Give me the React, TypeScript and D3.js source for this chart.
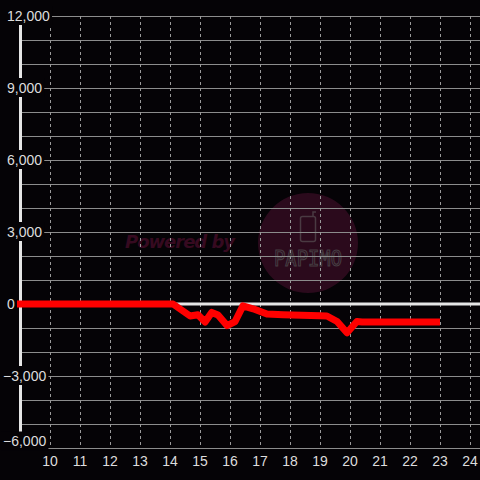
import React, { useEffect, useRef } from "react";
import * as d3 from "d3";

const hours = [8.8, 14.1, 14.67, 14.93, 15.17, 15.39, 15.6, 15.9, 16.17, 16.43, 16.77, 17.23, 17.77, 19.0, 19.23, 19.57, 19.9, 20.23, 20.4, 23.0];
const values = [0, 0, -500, -450, -750, -350, -460, -900, -730, -80, -200, -420, -450, -490, -500, -730, -1200, -730, -750, -750];
const yTicks = [12000, 9000, 6000, 3000, 0, -3000, -6000];
const xTicks = [10, 11, 12, 13, 14, 15, 16, 17, 18, 19, 20, 21, 22, 23, 24];

const W = 480;
const H = 480;
const BG = "#050306";

export default function App() {
  const ref = useRef<SVGSVGElement | null>(null);

  useEffect(() => {
    const svg = d3.select(ref.current);
    svg.selectAll("*").remove();
    const x = d3.scaleLinear().domain([9, 24]).range([20, 470]);
    const y = d3.scaleLinear().domain([-6000, 12000]).range([448, 16]);

    svg.append("rect").attr("width", W).attr("height", H).attr("fill", BG);

    // watermark
    const wm = svg.append("g");
    wm.append("text")
      .attr("x", 125)
      .attr("y", 248)
      .attr("font-family", "'DejaVu Sans', sans-serif")
      .attr("font-weight", "bold")
      .attr("font-style", "italic")
      .attr("font-size", 18)
      .attr("fill", "#360a20")
      .attr("textLength", 110)
      .text("Powered by");
    wm.append("circle").attr("cx", 308).attr("cy", 243).attr("r", 50).attr("fill", "#2b0a1c");
    wm.append("rect")
      .attr("x", 300.5).attr("y", 216.5).attr("width", 15).attr("height", 25).attr("rx", 2)
      .attr("fill", "none").attr("stroke", "#4a3a42").attr("stroke-width", 1.5);
    wm.append("path")
      .attr("d", "M313,216.5 L313,212 L316,212")
      .attr("fill", "none").attr("stroke", "#4a3a42").attr("stroke-width", 1.5);
    wm.append("text")
      .attr("x", 274)
      .attr("y", 266)
      .attr("font-family", "'DejaVu Sans Mono', monospace")
      .attr("font-size", 21)
      .attr("fill", "none")
      .attr("stroke", "#463e43")
      .attr("stroke-width", 1.1)
      .attr("textLength", 68)
      .attr("lengthAdjust", "spacingAndGlyphs")
      .text("PAPIMO");

    // horizontal grid
    const hg = d3.range(-6000, 12001, 1000);
    svg.append("g").selectAll("line").data(hg).join("line")
      .attr("x1", 20).attr("x2", W)
      .attr("y1", (d) => y(d) + 0.5).attr("y2", (d) => y(d) + 0.5)
      .attr("stroke", "#8c8c8c").attr("stroke-width", 1);

    // vertical dashed grid
    svg.append("g").selectAll("line").data(xTicks).join("line")
      .attr("x1", (d) => Math.round(x(d)) + 0.5).attr("x2", (d) => Math.round(x(d)) + 0.5)
      .attr("y1", 16).attr("y2", 447)
      .attr("stroke", "#9a9a9a").attr("stroke-width", 1)
      .attr("stroke-dasharray", "3,3");

    // y axis line
    svg.append("line")
      .attr("x1", 20.5).attr("x2", 20.5).attr("y1", 16).attr("y2", 448)
      .attr("stroke", "#e6e6e6").attr("stroke-width", 3);

    // zero line
    svg.append("line")
      .attr("x1", 20).attr("x2", W).attr("y1", y(0)).attr("y2", y(0))
      .attr("stroke", "#e6e6e6").attr("stroke-width", 3);

    // data line
    const pts = hours.map((h, i) => [h, values[i]] as [number, number]);
    const line = d3.line<[number, number]>().x((d) => x(d[0])).y((d) => y(d[1]));
    svg.append("path")
      .attr("d", line(pts) || "")
      .attr("fill", "none")
      .attr("stroke", "#ff0000")
      .attr("stroke-width", 7)
      .attr("stroke-linejoin", "round");

    // y labels
    const fmt = d3.format(",");
    const yl = svg.append("g");
    yTicks.forEach((v, i) => {
      const cy = i === yTicks.length - 1 ? y(v) - 6.5 : y(v);
      const g = yl.append("g");
      const bg = g.append("rect").attr("fill", BG);
      const t = g.append("text")
        .attr("x", v < 0 ? 3 : 7)
        .attr("y", cy)
        .attr("dy", "0.35em")
        .attr("font-family", "'Liberation Sans', Arial, sans-serif")
        .attr("font-size", 14)
        .attr("fill", "#dddddd")
        .text(fmt(v));
      const bb = (t.node() as SVGTextElement).getBBox();
      bg.attr("x", bb.x - 2).attr("y", cy - 10).attr("width", bb.width + 4).attr("height", 19);
    });

    // x labels
    svg.append("g").selectAll("text").data(xTicks).join("text")
      .attr("x", (d) => x(d))
      .attr("y", 466)
      .attr("text-anchor", "middle")
      .attr("font-family", "'Liberation Sans', Arial, sans-serif")
      .attr("font-size", 14)
      .attr("fill", "#dddddd")
      .text((d) => String(d));
  }, []);

  return (
    <svg
      ref={ref}
      width={W}
      height={H}
      style={{ position: "fixed", left: 0, top: 0, display: "block" }}
    />
  );
}
